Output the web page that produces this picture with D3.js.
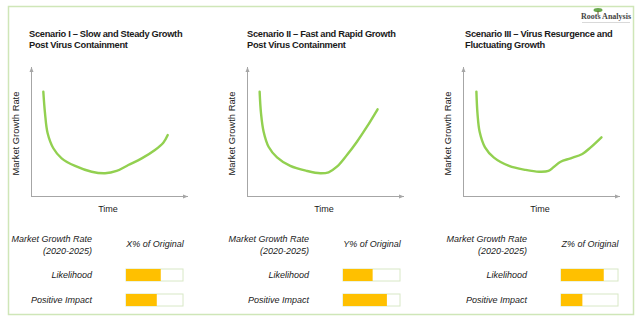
<!DOCTYPE html>
<html>
<head>
<meta charset="utf-8">
<script src="https://cdn.jsdelivr.net/npm/d3@7"></script>
<style>
  body { margin: 0; background: #fff; }
  text { font-family: "Liberation Sans", Arial, sans-serif; fill: #1a1a1a; }
</style>
</head>
<body>
<div id="chart-area"></div>
<script>
const titles = [
	["Scenario I \u2013 Slow and Steady Growth", "Post Virus Containment"],
	["Scenario II \u2013 Fast and Rapid Growth", "Post Virus Containment"],
	["Scenario III \u2013 Virus Resurgence and", "Fluctuating Growth"]
];

// time / growth-rate pairs for each scenario curve (0-10 scale)
const curveSlow = [
	[0.80, 8.09], [0.91, 6.41], [1.08, 4.86], [1.45, 3.70], [1.99, 2.92], [2.86, 2.33],
	[3.94, 1.88], [4.81, 1.76], [5.56, 1.94], [6.32, 2.40], [7.19, 2.92], [8.05, 3.57],
	[8.59, 4.13], [8.88, 4.73]
];
const curveFast = [
	[0.82, 8.09], [0.91, 6.41], [1.08, 4.98], [1.40, 3.82], [1.95, 3.00], [2.81, 2.33],
	[3.90, 1.94], [4.76, 1.76], [5.30, 1.84], [5.84, 2.27], [6.49, 3.18], [7.14, 4.21],
	[7.79, 5.37], [8.48, 6.72]
];
const curveFluct = [
	[0.87, 8.09], [0.94, 6.41], [1.08, 4.98], [1.43, 3.77], [2.01, 2.97], [2.99, 2.33],
	[4.07, 2.02], [4.94, 1.88], [5.55, 1.94], [5.91, 2.27], [6.34, 2.66], [6.99, 2.92],
	[7.75, 3.26], [8.29, 3.77], [8.99, 4.55]
];
const curves = [curveSlow, curveFast, curveFluct];

const outcomes = ["X% of Original", "Y% of Original", "Z% of Original"];
const rowLabels = ["Likelihood", "Positive Impact"];
const likelihood = [0.61, 0.52, 0.75];
const positiveImpact = [0.54, 0.77, 0.375];

const svg = d3.select("#chart-area").append("svg")
	.attr("width", 640)
	.attr("height", 336);

const defs = svg.append("defs");
defs.append("marker")
	.attr("id", "arrow")
	.attr("viewBox", "0 0 10 10")
	.attr("refX", 10)
	.attr("refY", 5)
	.attr("markerWidth", 5)
	.attr("markerHeight", 5)
	.attr("orient", "auto")
	.append("path")
	.attr("d", "M0,1L10,5L0,9Z")
	.attr("fill", "#a6a6a6");

// outer frame
svg.append("rect")
	.attr("x", 8.5)
	.attr("y", 6.5)
	.attr("width", 625)
	.attr("height", 308)
	.attr("fill", "none")
	.attr("stroke", "#cfe6b8")
	.attr("stroke-width", 1.5);

// logo
const logo = svg.append("g").attr("transform", "translate(606,19)");
logo.append("ellipse")
	.attr("cx", -8).attr("cy", -9).attr("rx", 4.5).attr("ry", 2)
	.attr("fill", "#6aa84f");
logo.append("line")
	.attr("x1", -8).attr("x2", -8).attr("y1", -8).attr("y2", -4)
	.attr("stroke", "#6b4f2a").attr("stroke-width", 1);
logo.append("text")
	.attr("text-anchor", "middle")
	.style("font-family", "'Liberation Serif', 'DejaVu Serif', serif")
	.style("font-size", "8px")
	.style("font-weight", "bold")
	.style("fill", "#444")
	.text("Roots Analysis");
logo.append("line")
	.attr("x1", -24).attr("x2", 24).attr("y1", 3.5).attr("y2", 3.5)
	.attr("stroke", "#cfcfcf").attr("stroke-width", 0.8);

const x = d3.scaleLinear().domain([0, 10]).range([31, 185]);
const y = d3.scaleLinear().domain([0, 10]).range([196, 67]);

const line = d3.line()
	.x(d => x(d[0]))
	.y(d => y(d[1]))
	.curve(d3.curveCatmullRom.alpha(0.5));

const chartOffsets = [0, 216, 432];
const tableOffsets = [0, 217, 435];

curves.forEach((pts, i) => {
	const g = svg.append("g")
		.attr("transform", `translate(${chartOffsets[i]},0)`);

	g.append("text")
		.attr("x", 29 + i * 2)
		.attr("y", 37)
		.style("font-size", "9.3px")
		.style("font-weight", "bold")
		.style("letter-spacing", "-0.3px")
		.selectAll("tspan")
		.data(titles[i])
		.join("tspan")
		.attr("x", 29 + i * 2)
		.attr("dy", (d, k) => k ? 11 : 0)
		.text(d => d);

	const xAxis = g.append("g")
		.attr("transform", `translate(0,${y(0)})`)
		.call(d3.axisBottom(x).tickValues([]).tickSizeOuter(0));
	const yAxis = g.append("g")
		.attr("transform", `translate(${x(0)},0)`)
		.call(d3.axisLeft(y).tickValues([]).tickSizeOuter(0));
	[xAxis, yAxis].forEach(a => a.select(".domain")
		.attr("stroke", "#a6a6a6")
		.attr("marker-end", "url(#arrow)"));
	// domain path runs bottom-to-top for the y axis, so the arrow lands at the top
	xAxis.select(".domain").attr("d", `M0,0.5H${x(10) - x(0) + 3}`)
		.attr("transform", `translate(${x(0)},0)`);
	yAxis.select(".domain").attr("d", `M0.5,${y(0)}V${y(10)}`);

	g.append("path")
		.datum(pts)
		.attr("d", line)
		.attr("fill", "none")
		.attr("stroke", "#92d050")
		.attr("stroke-width", 2.4)
		.attr("stroke-linecap", "round");

	g.append("text")
		.attr("x", (x(0) + x(10)) / 2)
		.attr("y", 212)
		.attr("text-anchor", "middle")
		.style("font-size", "9px")
		.text("Time");

	g.append("text")
		.attr("transform", `translate(19,${(y(0) + y(10)) / 2 + 2}) rotate(-90)`)
		.attr("text-anchor", "middle")
		.style("font-size", "9.4px")
		.text("Market Growth Rate");

	// likelihood / impact table
	const t = svg.append("g")
		.attr("transform", `translate(${tableOffsets[i]},0)`);
	const italic = sel => sel.style("font-size", "9px").style("font-style", "italic");

	t.append("text").call(italic)
		.attr("x", 92).attr("y", 242).attr("text-anchor", "end")
		.text("Market Growth Rate");
	t.append("text").call(italic)
		.attr("x", 92).attr("y", 254).attr("text-anchor", "end")
		.text("(2020-2025)");
	t.append("text").call(italic)
		.attr("x", 155).attr("y", 247).attr("text-anchor", "middle")
		.text(outcomes[i]);

	const bx = d3.scaleLinear().domain([0, 1]).range([0, 57]);
	const rows = [likelihood[i], positiveImpact[i]];
	rows.forEach((v, r) => {
		const by = r ? 294 : 269;
		t.append("text").call(italic)
			.attr("x", 92).attr("y", by + 9).attr("text-anchor", "end")
			.text(rowLabels[r]);
		t.append("rect")
			.attr("x", 126 + bx(0)).attr("y", by)
			.attr("width", bx(1)).attr("height", 12)
			.attr("fill", "#fff")
			.attr("stroke", "#d8e8c6")
			.attr("stroke-width", 1);
		t.append("rect")
			.attr("x", 126 + bx(0)).attr("y", by)
			.attr("width", bx(v)).attr("height", 12)
			.attr("fill", "#ffc000");
	});
});
</script>
</body>
</html>
